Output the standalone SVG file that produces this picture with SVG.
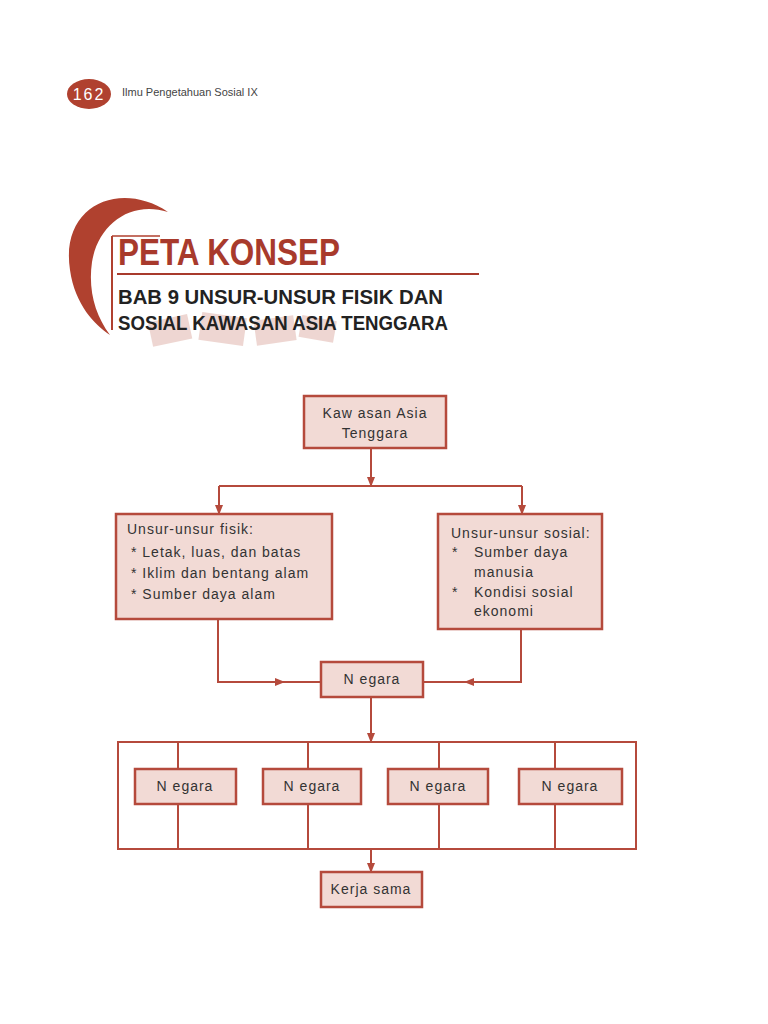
<svg xmlns="http://www.w3.org/2000/svg" width="768" height="1024" viewBox="0 0 768 1024">
<style>
.box{fill:#f2dad5;stroke:#b54a3c;stroke-width:2.5}
.ln{fill:none;stroke:#b54a3c;stroke-width:2}
.t{font-family:"Liberation Sans",Arial,sans-serif;font-size:14px;fill:#333;letter-spacing:1px}
.c{text-anchor:middle}
</style>
<defs>
<marker id="a" viewBox="0 0 10 10" refX="9" refY="5" markerWidth="5" markerHeight="5" orient="auto"><path d="M0,1 L10,5 L0,9z" fill="#b54a3c"/></marker>
</defs>
<rect width="768" height="1024" fill="#fff"/>
<g id="header">
<ellipse cx="89" cy="94" rx="22" ry="15" fill="#b0412f"/>
<text x="89" y="100" class="c" font-family="Liberation Sans,sans-serif" font-size="16" fill="#fff" letter-spacing="2">162</text>
<text x="122" y="96" font-family="Liberation Sans,sans-serif" font-size="11" fill="#444">Ilmu Pengetahuan Sosial IX</text>
</g>
<g id="title">
<path d="M168,212 C120,180 60,205 70,270 C75,305 95,325 110,335 C95,315 88,290 92,262 C98,225 130,200 168,212 Z" fill="#b0412f"/>
<path d="M112,236 L112,330" stroke="#b0412f" stroke-width="2"/>
<path d="M112,236 L160,236" stroke="#b0412f" stroke-width="1.5"/>
<g fill="#e8c6bf" opacity="0.7"><rect x="150" y="318" width="40" height="25" transform="rotate(-12 170 330)"/><rect x="200" y="315" width="45" height="28" transform="rotate(8 222 330)"/><rect x="255" y="318" width="40" height="25" transform="rotate(-8 275 330)"/><rect x="300" y="318" width="35" height="22" transform="rotate(10 318 330)"/></g>
<text x="118" y="265" font-family="Liberation Sans,sans-serif" font-size="36" font-weight="bold" fill="#a83a2c" textLength="222" lengthAdjust="spacingAndGlyphs">PETA KONSEP</text>
<line x1="117" y1="274" x2="479" y2="274" stroke="#a83a2c" stroke-width="2"/>
<text x="118" y="304" font-family="Liberation Sans,sans-serif" font-size="20" font-weight="bold" fill="#222" textLength="325" lengthAdjust="spacingAndGlyphs">BAB 9  UNSUR-UNSUR FISIK DAN</text>
<text x="118" y="330" font-family="Liberation Sans,sans-serif" font-size="20" font-weight="bold" fill="#222" textLength="330" lengthAdjust="spacingAndGlyphs">SOSIAL KAWASAN ASIA TENGGARA</text>
</g>
<g id="connectors">
<path class="ln" d="M371,448 V486" marker-end="url(#a)"/>
<path class="ln" d="M219,486 H522"/>
<path class="ln" d="M219,486 V514" marker-end="url(#a)"/>
<path class="ln" d="M522,486 V514" marker-end="url(#a)"/>
<path class="ln" d="M218,619 V682 H284" marker-end="url(#a)"/>
<path class="ln" d="M284,682 H321"/>
<path class="ln" d="M521,629 V682 H465" marker-end="url(#a)"/>
<path class="ln" d="M465,682 H423"/>
<path class="ln" d="M371,697 V742" marker-end="url(#a)"/>
<rect class="ln" x="118" y="742" width="518" height="107"/>
<path class="ln" d="M178,742 V769 M178,804 V849 M308,742 V769 M308,804 V849 M439,742 V769 M439,804 V849 M555,742 V769 M555,804 V849"/>
<path class="ln" d="M371,849 V872" marker-end="url(#a)"/>
</g>
<g id="n-kawasan"><rect class="box" x="304" y="396" width="142" height="52"/><text class="t c" x="375" y="418">Kaw asan Asia</text><text class="t c" x="375" y="438">Tenggara</text></g>
<g id="n-fisik"><rect class="box" x="116" y="514" width="216" height="105"/>
<text class="t" x="127" y="534">Unsur-unsur fisik:</text>
<text class="t" x="131" y="557">*  Letak, luas, dan batas</text>
<text class="t" x="131" y="578">*  Iklim dan bentang alam</text>
<text class="t" x="131" y="599">*  Sumber daya alam</text></g>
<g id="n-sosial"><rect class="box" x="438" y="514" width="164" height="115"/>
<text class="t" x="451" y="538">Unsur-unsur sosial:</text>
<text class="t" x="452" y="557">*</text><text class="t" x="474" y="557">Sumber daya</text>
<text class="t" x="474" y="577">manusia</text>
<text class="t" x="452" y="597">*</text><text class="t" x="474" y="597">Kondisi sosial</text>
<text class="t" x="474" y="616">ekonomi</text></g>
<g id="n-negara"><rect class="box" x="321" y="662" width="102" height="35"/><text class="t c" x="372" y="684">N egara</text></g>
<g id="n-negara1"><rect class="box" x="135" y="769" width="101" height="35"/><text class="t c" x="185" y="791">N egara</text></g>
<g id="n-negara2"><rect class="box" x="263" y="769" width="98" height="35"/><text class="t c" x="312" y="791">N egara</text></g>
<g id="n-negara3"><rect class="box" x="388" y="769" width="100" height="35"/><text class="t c" x="438" y="791">N egara</text></g>
<g id="n-negara4"><rect class="box" x="519" y="769" width="103" height="35"/><text class="t c" x="570" y="791">N egara</text></g>
<g id="n-kerja"><rect class="box" x="321" y="872" width="101" height="35"/><text class="t c" x="371" y="894">Kerja sama</text></g>
</svg>
